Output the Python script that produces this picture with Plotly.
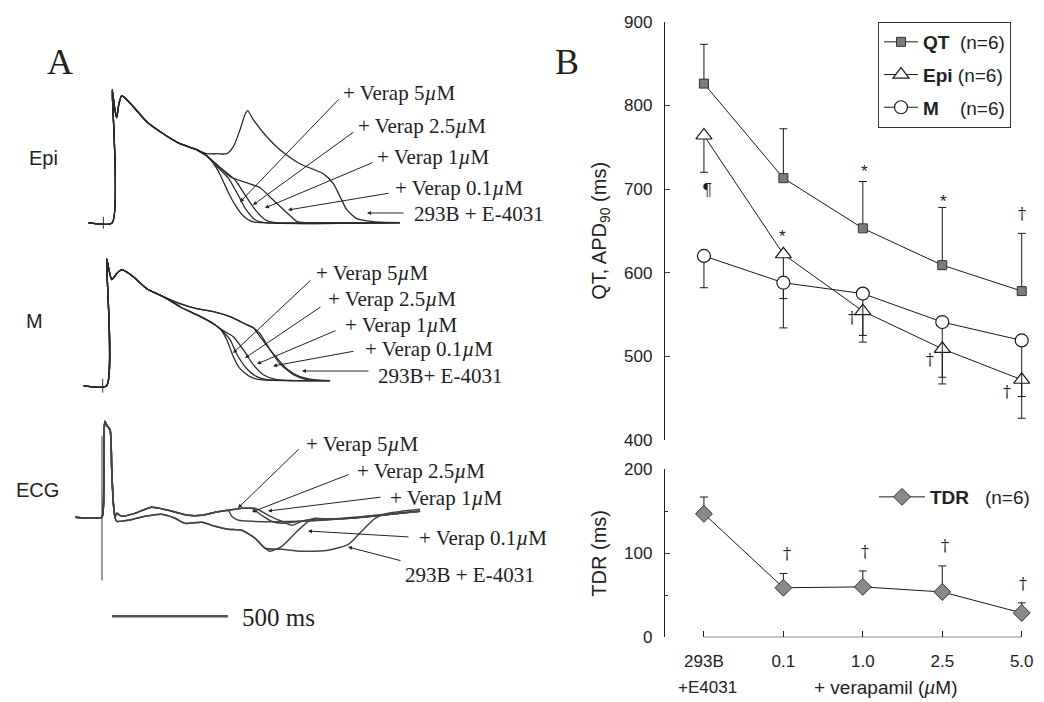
import plotly.graph_objects as go

W, H = 1044, 702

# ---------------- Panel B data ----------------
conc_pos = [0, 1, 2, 3, 4]
conc_labels = ["293B", "0.1", "1.0", "2.5", "5.0"]
control_sub = "+E4031"
qt = [826, 713, 653, 609, 578]
qt_err = [47, 59, 56, 69, 69]
epi = [764, 622, 554, 509, 472]
epi_err = [44, 88, 37, 42, 46]
m_apd = [620, 588, 575, 541, 519]
m_err = [38, 19, 50, 66, 67]
tdr = [147, 59, 60, 54, 29]
tdr_err = [20, 17, 19, 31, 12]

# significance marks: (symbol, x, value) on APD axis / TDR axis
sig_apd = [("¶", 0.04, 699), ("*", 0.99, 643), ("*", 2.02, 721), ("*", 3.01, 685),
           ("†", 4.0, 671), ("†", 1.86, 546), ("†", 2.84, 496), ("†", 3.82, 458)]
sig_tdr = [("†", 1.04, 100), ("†", 2.03, 102), ("†", 3.03, 109), ("†", 4.02, 64)]

# ---------------- Panel A data (time in ms, Vm in mV / ECG in mV) ----------------
conds = ["293B + E-4031", "+ Verap 0.1", "+ Verap 1", "+ Verap 2.5", "+ Verap 5"]

epi_t0 = [-72, 31, 31, 40, 50, 60, 72, 94, 122, 180, 251, 323, 395]
epi_v0 = [-85, -85, 48, 32, 20, 34, 42, 38, 31, 16, 4, -6, -12]
epi_t = {
    "293B + E-4031": [438, 480, 525, 553, 582, 603, 615, 639, 697, 754, 840, 941, 984, 1013, 1042, 1085, 1156, 1271],
    "+ Verap 0.1": [438, 496, 539, 610, 668, 724, 784, 828, 862, 1271],
    "+ Verap 1": [409, 438, 487, 560, 603, 647, 690, 733, 1271],
    "+ Verap 2.5": [409, 438, 474, 530, 573, 608, 647, 690, 1271],
    "+ Verap 5": [409, 438, 465, 496, 530, 560, 595, 634, 677, 1271],
}
epi_v = {
    "293B + E-4031": [-16, -16, -16, -9, 8, 23, 27, 18, 1, -12, -26, -36, -46, -59, -72, -81, -84, -85],
    "+ Verap 0.1": [-18, -30, -39, -45, -50, -62, -75, -84, -85, -85],
    "+ Verap 1": [-14, -18, -28, -42, -57, -72, -82, -85, -85],
    "+ Verap 2.5": [-14, -18, -27, -40, -57, -72, -82, -85, -85],
    "+ Verap 5": [-14, -18, -25, -37, -54, -67, -78, -84, -85, -85],
}

m_t0 = [-93, 7, 7, 18, 29, 50, 72, 122, 180, 251]
m_v0 = [-85, -85, 42, 30, 21, 27, 31, 24, 12, 4]
m_up_t = [323, 395, 467, 539, 611, 639]
m_up_v = [-3, -8, -11, -16, -24, -27]
m_lo_t = [323, 395, 467, 496]
m_lo_v = [-6, -14, -23, -28]
m_t = {
    "293B + E-4031": [668, 725, 783, 840, 898, 970],
    "+ Verap 0.1": [668, 711, 754, 812, 869, 970],
    "+ Verap 1": [553, 596, 639, 682, 740, 970],
    "+ Verap 2.5": [539, 567, 611, 654, 697, 970],
    "+ Verap 5": [525, 553, 582, 625, 668, 970],
}
m_v = {
    "293B + E-4031": [-36, -53, -68, -76, -79, -80],
    "+ Verap 0.1": [-33, -49, -63, -74, -79, -80],
    "+ Verap 1": [-36, -49, -64, -74, -79, -80],
    "+ Verap 2.5": [-39, -53, -68, -76, -79, -80],
    "+ Verap 5": [-39, -56, -68, -76, -79, -80],
}

ecg_t0 = [-129, -14, -7, -3, 0, 8, 22, 29, 36, 43]
ecg_v0 = [0, 0, 0.1, 0.9, 0.96, 0.92, 0.87, 0.47, 0.14, 0.0]
ecg_up_t = [50, 72, 129, 201, 273, 359, 417, 474, 531]
ecg_up_v = [0.04, 0.01, 0.04, 0.10, 0.07, 0.02, 0.02, 0.05, 0.07]
ecg_lo_t = [50, 100, 172, 244, 302, 345, 417, 474, 531, 589, 647, 690]
ecg_lo_v = [-0.04, -0.03, 0.01, 0.03, -0.01, -0.06, -0.05, -0.09, -0.12, -0.13, -0.21, -0.31]
ecg_t = {
    "293B + E-4031": [762, 848, 962, 1049, 1106, 1164, 1221, 1358],
    "+ Verap 0.1": [711, 762, 819, 876, 905, 962, 1250, 1358],
    "+ Verap 1": [589, 647, 704, 762, 805, 848, 891, 1056, 1271, 1358],
    "+ Verap 2.5": [589, 632, 675, 718, 762, 840, 1056, 1271, 1358],
    "+ Verap 5": [546, 575, 632, 840, 1056, 1271, 1358],
}
ecg_v = {
    "293B + E-4031": [-0.32, -0.34, -0.33, -0.27, -0.14, -0.01, 0.04, 0.08],
    "+ Verap 0.1": [-0.34, -0.29, -0.16, -0.04, -0.01, -0.02, 0.04, 0.06],
    "+ Verap 1": [0.09, 0.09, 0.02, -0.04, -0.08, -0.04, -0.02, -0.01, 0.04, 0.06],
    "+ Verap 2.5": [0.09, 0.09, 0.02, -0.04, -0.06, -0.04, -0.01, 0.04, 0.06],
    "+ Verap 5": [0.01, -0.03, -0.04, -0.04, -0.01, 0.04, 0.06],
}
ecg_lower_group = ["293B + E-4031", "+ Verap 0.1"]
m_upper_group = ["293B + E-4031", "+ Verap 0.1"]

stim_t = {"Epi": -7, "M": -10, "ECG": -13}
scale_bar_t = [30, 530]

# label text for the arrows (text, text_px, text_py, head_px, head_py, tail_px, tail_py)
arrow_labels = [
    ("+ Verap 5<i>µ</i>M", 341, 93, 240, 202, 340, 98),
    ("+ Verap 2.5<i>µ</i>M", 356, 126, 253, 205, 355, 131),
    ("+ Verap 1<i>µ</i>M", 375, 157, 265, 208, 374, 162),
    ("+ Verap 0.1<i>µ</i>M", 393, 188, 288, 210, 390, 193),
    ("293B + E-4031", 412, 214, 367, 213, 405, 213),
    ("+ Verap 5<i>µ</i>M", 314, 273, 233, 353, 312, 279),
    ("+ Verap 2.5<i>µ</i>M", 326, 299, 245, 358, 322, 306),
    ("+ Verap 1<i>µ</i>M", 343, 325, 257, 364, 337, 330),
    ("+ Verap 0.1<i>µ</i>M", 363, 349, 273, 366, 355, 351),
    ("293B+ E-4031", 376, 376, 302, 371, 370, 371),
    ("+ Verap 5<i>µ</i>M", 304, 444, 238, 508, 300, 448),
    ("+ Verap 2.5<i>µ</i>M", 355, 471, 252, 512, 350, 474),
    ("+ Verap 1<i>µ</i>M", 388, 498, 268, 511, 382, 497),
    ("+ Verap 0.1<i>µ</i>M", 417, 538, 308, 531, 410, 537),
    ("293B + E-4031", 403, 575, 348, 547, 402, 561),
]


def pxx(x):
    return x / W


def pxy(y):
    return 1 - y / H


INK = "#222222"
SERIF = "Liberation Serif"
SANS = "Liberation Sans"
SYM = "DejaVu Serif"

fig = go.Figure()

# ---------- Panel A traces ----------
trace_style = dict(mode="lines", line=dict(color="#2a2a2a", width=1.3, shape="spline", smoothing=0.6),
                   showlegend=False, hoverinfo="skip")
for c in conds:
    fig.add_trace(go.Scatter(x=epi_t0 + epi_t[c], y=epi_v0 + epi_v[c], xaxis="x3", yaxis="y3", **trace_style))
    if c in m_upper_group:
        tt, vv = m_up_t, m_up_v
    else:
        tt, vv = m_lo_t, m_lo_v
    fig.add_trace(go.Scatter(x=m_t0 + tt + m_t[c], y=m_v0 + vv + m_v[c], xaxis="x3", yaxis="y4", **trace_style))
    if c in ecg_lower_group:
        tt, vv = ecg_lo_t, ecg_lo_v
    else:
        tt, vv = ecg_up_t, ecg_up_v
    fig.add_trace(go.Scatter(x=ecg_t0 + tt + ecg_t[c], y=ecg_v0 + vv + ecg_v[c], xaxis="x3", yaxis="y5",
                             mode="lines", line=dict(color="#444444", width=1.5, shape="spline", smoothing=0.6),
                             showlegend=False, hoverinfo="skip"))

# stimulus markers
stim_line = dict(mode="lines", line=dict(color="#333", width=1), showlegend=False, hoverinfo="skip")
fig.add_trace(go.Scatter(x=[stim_t["Epi"]] * 2, y=[-91, -79], xaxis="x3", yaxis="y3", **stim_line))
fig.add_trace(go.Scatter(x=[stim_t["M"]] * 2, y=[-92, -78], xaxis="x3", yaxis="y4", **stim_line))
fig.add_trace(go.Scatter(x=[stim_t["ECG"]] * 2, y=[0.81, -0.63], xaxis="x3", yaxis="y5", **stim_line))
# scale bar
fig.add_trace(go.Scatter(x=scale_bar_t, y=[-0.99, -0.99], xaxis="x3", yaxis="y5", mode="lines",
                         line=dict(color="#555", width=2.5), showlegend=False, hoverinfo="skip"))

# ---------- Panel B traces ----------
line_k = dict(color="#1a1a1a", width=1)
fig.add_trace(go.Scatter(
    x=conc_pos, y=qt, xaxis="x2", yaxis="y2", mode="lines+markers", name="<b>QT</b>&nbsp;&nbsp;(n=6)",
    line=line_k, marker=dict(symbol="square", size=9, color="#7c7c7c", line=dict(color="#333", width=1)),
    error_y=dict(type="data", symmetric=False, array=qt_err, arrayminus=[0] * 5, color="#1a1a1a",
                 thickness=1, width=4), legend="legend", legendgroup="qt"))
fig.add_trace(go.Scatter(
    x=conc_pos, y=epi, xaxis="x2", yaxis="y2", mode="lines+markers", name="<b>Epi</b>&nbsp;(n=6)",
    line=line_k, marker=dict(symbol="triangle-up", size=14, color="white", line=dict(color="#1a1a1a", width=1.2)),
    error_y=dict(type="data", symmetric=False, array=[0] * 5, arrayminus=epi_err, color="#1a1a1a",
                 thickness=1, width=4), legend="legend", legendgroup="epi"))
fig.add_trace(go.Scatter(
    x=conc_pos, y=m_apd, xaxis="x2", yaxis="y2", mode="lines+markers", name="<b>M</b>&nbsp;&nbsp;&nbsp;&nbsp;(n=6)",
    line=line_k, marker=dict(symbol="circle", size=13, color="white", line=dict(color="#1a1a1a", width=1.2)),
    error_y=dict(type="data", symmetric=False, array=[0] * 5, arrayminus=m_err, color="#1a1a1a",
                 thickness=1, width=4), legend="legend", legendgroup="m"))
fig.add_trace(go.Scatter(
    x=conc_pos, y=tdr, xaxis="x", yaxis="y", mode="lines+markers", name="<b>TDR</b>&nbsp;&nbsp;&nbsp;(n=6)",
    line=line_k, marker=dict(symbol="diamond", size=13, color="#8a8a8a", line=dict(color="#333", width=1)),
    error_y=dict(type="data", symmetric=False, array=tdr_err, arrayminus=[0] * 5, color="#1a1a1a",
                 thickness=1, width=4), legend="legend2"))

C = dict(xanchor="center", yanchor="middle", showarrow=False)
annotations = []
for s, x, v in sig_apd:
    annotations.append(dict(x=x, y=v, xref="x2", yref="y2", text=s, **C,
                            font=dict(family=SANS if s == "*" else SYM, size=17 if s == "*" else 16, color=INK)))
for s, x, v in sig_tdr:
    annotations.append(dict(x=x, y=v, xref="x", yref="y", text=s, **C,
                            font=dict(family=SYM, size=16, color=INK)))

for text, tx, ty, hx, hy, ax_, ay_ in arrow_labels:
    annotations.append(dict(x=pxx(hx), y=pxy(hy), xref="paper", yref="paper", text="", showarrow=True,
                            ax=ax_ - hx, ay=ay_ - hy, axref="pixel", ayref="pixel",
                            arrowhead=2, arrowsize=0.8, arrowwidth=1, arrowcolor="#222", standoff=0))
    annotations.append(dict(x=pxx(tx), y=pxy(ty), xref="paper", yref="paper", text=text, showarrow=False,
                            xanchor="left", yanchor="middle", font=dict(family=SERIF, size=21, color=INK)))

annotations += [
    dict(x=pxx(60), y=pxy(62), xref="paper", yref="paper", text="A", **C,
         font=dict(family=SERIF, size=36, color=INK)),
    dict(x=pxx(567), y=pxy(62), xref="paper", yref="paper", text="B", **C,
         font=dict(family=SERIF, size=36, color=INK)),
    dict(x=pxx(43), y=pxy(158), xref="paper", yref="paper", text="Epi", **C,
         font=dict(family=SANS, size=20, color=INK)),
    dict(x=pxx(34), y=pxy(321), xref="paper", yref="paper", text="M", **C,
         font=dict(family=SANS, size=20, color=INK)),
    dict(x=pxx(37), y=pxy(490), xref="paper", yref="paper", text="ECG", **C,
         font=dict(family=SANS, size=20, color=INK)),
    dict(x=pxx(240), y=pxy(617), xref="paper", yref="paper", text="500 ms", showarrow=False,
         xanchor="left", yanchor="middle", font=dict(family=SERIF, size=25, color=INK)),
    dict(x=pxx(885), y=pxy(687), xref="paper", yref="paper", text="+ verapamil (<i>µ</i>M)", **C,
         font=dict(family=SANS, size=19, color=INK)),
    dict(x=0.05, y=pxy(687), xref="x", yref="paper", text=control_sub, **C,
         font=dict(family=SANS, size=17, color=INK)),
]

# x axis line spanning only the categories
shapes = [dict(type="line", xref="x", yref="y", x0=0, x1=4, y0=0, y1=0, line=dict(color="#222", width=1.3))]

axis_font = dict(family=SANS, size=17, color=INK)
xdom = [665 / W, 1040 / W]
hidden = dict(visible=False, showgrid=False, zeroline=False, automargin=False)

fig.update_layout(
    width=W, height=H, margin=dict(l=0, r=0, t=0, b=0, pad=0, autoexpand=False),
    paper_bgcolor="white", plot_bgcolor="rgba(0,0,0,0)",
    font=dict(family=SANS, color=INK),
    xaxis=dict(domain=xdom, range=[-0.49, 4.23], anchor="y", tickvals=conc_pos, ticktext=conc_labels,
               ticks="inside", ticklen=6, tickcolor="#222", showline=False, showgrid=False, zeroline=False,
               tickfont=axis_font, ticklabelstandoff=12, automargin=False),
    yaxis=dict(domain=[1 - 637.3 / H, 1 - 469.3 / H], range=[0, 200], anchor="x", tickvals=[0, 100, 200],
               ticks="inside", ticklen=5, showline=True, linecolor="#222", linewidth=1.3, showgrid=False,
               zeroline=False, tickfont=axis_font, ticklabelstandoff=8, automargin=False,
               minor=dict(tickvals=[50, 150], ticks="inside", ticklen=3, tickcolor="#222"),
               title=dict(text="TDR (ms)", font=dict(family=SANS, size=20, color=INK), standoff=12)),
    xaxis2=dict(domain=xdom, range=[-0.49, 4.23], anchor="y2", matches="x", **hidden),
    yaxis2=dict(domain=[1 - 440 / H, 1 - 21.7 / H], range=[400, 900], anchor="x2",
                tickvals=[400, 500, 600, 700, 800, 900],
                ticks="inside", ticklen=5, showline=True, linecolor="#222", linewidth=1.3, showgrid=False,
                zeroline=False, tickfont=axis_font, ticklabelstandoff=8, automargin=False,
                title=dict(text="QT, APD<sub>90</sub> (ms)", font=dict(family=SANS, size=20, color=INK),
                           standoff=12)),
    xaxis3=dict(domain=[0, 560 / W], range=[-452.6, 1961], anchor="y3", **hidden),
    yaxis3=dict(domain=[1 - 240 / H, 1 - 40 / H], range=[-102.3, 97.7], anchor="x3", **hidden),
    yaxis4=dict(domain=[1 - 420 / H, 1 - 240 / H], range=[-119.3, 60.7], anchor="x3", **hidden),
    yaxis5=dict(domain=[1 - 640 / H, 1 - 415 / H], range=[-1.227, 1.023], anchor="x3", **hidden),
    legend=dict(x=878 / W, y=1 - 22 / H, xanchor="left", yanchor="top", bordercolor="#333", borderwidth=1,
                bgcolor="white", font=dict(family=SANS, size=19, color=INK), itemwidth=34, tracegroupgap=5),
    legend2=dict(x=874 / W, y=1 - 478 / H, xanchor="left", yanchor="top", borderwidth=0,
                 bgcolor="rgba(0,0,0,0)", font=dict(family=SANS, size=19, color=INK), itemwidth=46),
    annotations=annotations,
    shapes=shapes,
)

fig.write_html("out.html", config={"displayModeBar": False},
               post_script="document.body.style.margin='0px';")
